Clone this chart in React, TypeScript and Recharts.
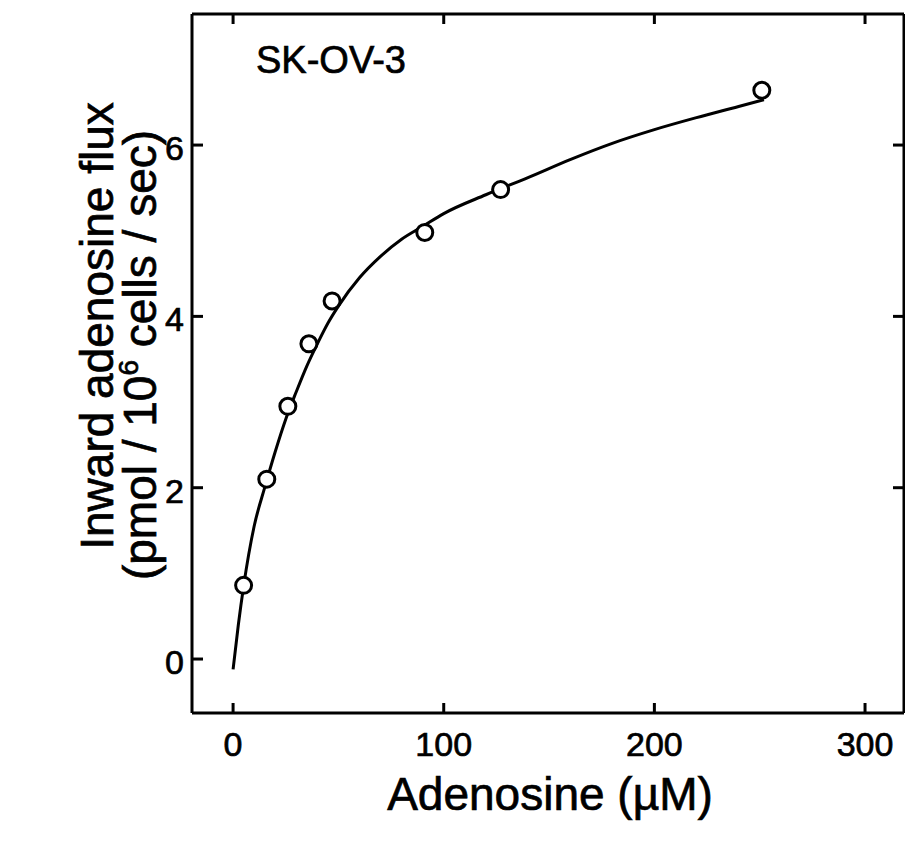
import { ComposedChart, Line, Scatter, XAxis, YAxis } from 'recharts'

// fitted curve
const CURVE_X = [0, 2.5, 5, 10, 15, 20, 25, 30, 35, 40, 45, 50, 60, 70, 80, 90, 100, 120, 140, 160, 180, 200, 220, 240, 252]
const CURVE_Y = [-0.12, 0.4, 0.85, 1.55, 2.0, 2.42, 2.8, 3.12, 3.42, 3.68, 3.92, 4.12, 4.45, 4.7, 4.9, 5.05, 5.2, 5.42, 5.62, 5.83, 6.02, 6.18, 6.32, 6.45, 6.53]

// measured points
const POINT_X = [5, 16, 26, 36, 47, 91, 127, 251]
const POINT_Y = [0.86, 2.1, 2.95, 3.68, 4.18, 4.98, 5.48, 6.64]

const X_TICKS = [0, 100, 200, 300]
const Y_TICKS = [0, 2, 4, 6]
const RIGHT_TICKS = [2, 4, 6]

const curve = CURVE_X.map((x, i) => ({ x, y: CURVE_Y[i] }))
const points = POINT_X.map((x, i) => ({ x, y: POINT_Y[i] }))

const FONT = '"Liberation Sans", Arial, Helvetica, sans-serif'
const INK = '#000'
const X_DOMAIN: [number, number] = [-19.5, 318.5]
const Y_DOMAIN: [number, number] = [-0.63, 7.53]

function OpenCircle(props: { cx?: number; cy?: number }) {
  if (props.cx == null || props.cy == null) return null
  return <circle cx={props.cx} cy={props.cy} r={8} fill="#fff" stroke={INK} strokeWidth={3} />
}

// mirrored axes only draw their inward tick marks
function NoText() {
  return <g />
}

function YTitle() {
  return (
    <g fontFamily={FONT} fontSize={46} fill={INK} stroke={INK} strokeWidth={0.7}>
      <text transform="translate(113,326) rotate(-90)" textAnchor="middle">
        Inward adenosine flux
      </text>
      <text transform="translate(156,355) rotate(-90)" textAnchor="middle">
        (pmol / 10
        <tspan fontSize={28} dy={-18}>6</tspan>
        <tspan dy={18}> cells / sec)</tspan>
      </text>
    </g>
  )
}

function XTitle() {
  return (
    <text x={550} y={810} textAnchor="middle" fontFamily={FONT} fontSize={46} fill={INK} stroke={INK} strokeWidth={0.7}>
      Adenosine (µM)
    </text>
  )
}

function CellLabel() {
  return (
    <text x={256} y={73} fontFamily={FONT} fontSize={38} fill={INK} stroke={INK} strokeWidth={0.7}>
      SK-OV-3
    </text>
  )
}

export default function App() {
  const axisLine = { stroke: INK, strokeWidth: 3 }
  const tickLine = { stroke: INK, strokeWidth: 3 }
  const tickText = { fill: INK, fontSize: 34, fontFamily: FONT, stroke: INK, strokeWidth: 0.7 }
  return (
    <div style={{ width: 905, height: 844, background: '#fff' }}>
      <style>{'body{margin:0}'}</style>
      <ComposedChart width={905} height={844} margin={{ top: 14, right: 1, bottom: 71, left: 0 }}>
        <XAxis
          xAxisId="b"
          type="number"
          dataKey="x"
          domain={X_DOMAIN}
          ticks={X_TICKS}
          allowDataOverflow
          height={60}
          tickSize={0}
          tickMargin={19}
          tickLine={false}
          axisLine={axisLine}
          tick={tickText}
          label={<XTitle />}
        />
        <XAxis
          xAxisId="bi"
          type="number"
          dataKey="x"
          domain={X_DOMAIN}
          ticks={X_TICKS}
          allowDataOverflow
          mirror
          tick={<NoText />}
          tickSize={10}
          tickLine={tickLine}
          axisLine={false}
        />
        <XAxis
          xAxisId="t"
          orientation="top"
          type="number"
          dataKey="x"
          domain={X_DOMAIN}
          ticks={X_TICKS}
          allowDataOverflow
          mirror
          tick={<NoText />}
          tickSize={10}
          tickLine={tickLine}
          axisLine={axisLine}
          label={<CellLabel />}
        />
        <YAxis
          yAxisId="l"
          type="number"
          domain={Y_DOMAIN}
          ticks={Y_TICKS}
          allowDataOverflow
          width={192}
          tickSize={0}
          tickMargin={8}
          tickLine={false}
          axisLine={axisLine}
          tick={{ ...tickText, dy: 3 }}
          label={<YTitle />}
        />
        <YAxis
          yAxisId="li"
          type="number"
          domain={Y_DOMAIN}
          ticks={Y_TICKS}
          allowDataOverflow
          mirror
          tick={<NoText />}
          tickSize={11}
          tickLine={tickLine}
          axisLine={false}
        />
        <YAxis
          yAxisId="r"
          orientation="right"
          type="number"
          domain={Y_DOMAIN}
          ticks={RIGHT_TICKS}
          allowDataOverflow
          mirror
          tick={<NoText />}
          tickSize={11}
          tickLine={tickLine}
          axisLine={axisLine}
        />
        <Line
          xAxisId="b"
          yAxisId="l"
          data={curve}
          dataKey="y"
          type="monotone"
          stroke={INK}
          strokeWidth={3}
          dot={false}
          activeDot={false}
          isAnimationActive={false}
        />
        <Scatter
          xAxisId="b"
          yAxisId="l"
          data={points}
          dataKey="y"
          shape={<OpenCircle />}
          isAnimationActive={false}
        />
      </ComposedChart>
    </div>
  )
}
